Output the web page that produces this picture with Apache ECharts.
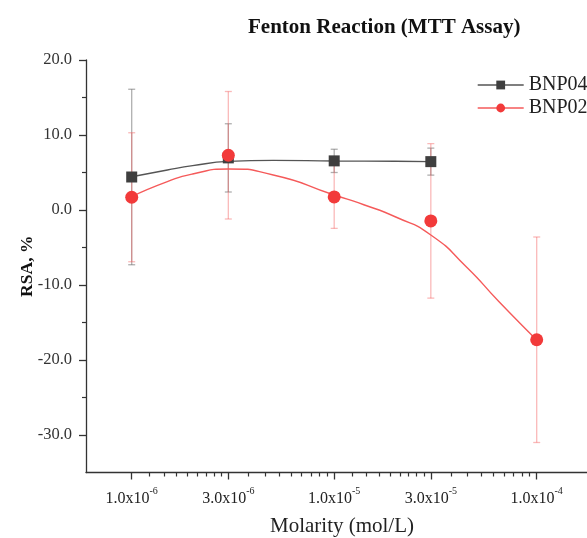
<!DOCTYPE html>
<html>
<head>
<meta charset="utf-8">
<script src="https://cdn.jsdelivr.net/npm/echarts@6/dist/echarts.min.js"></script>
<style>html,body{margin:0;padding:0;background:#fff;}#c{width:587px;height:538px;}</style>
</head>
<body>
<div id="c"></div>
<script>
// ---- data ----
const molarity = [1e-6, 3e-6, 1e-5, 3e-5, 1e-4];
const bnp04Mean = [4.4, 6.95, 6.55, 6.45];
const bnp04Err = [11.7, 4.55, 1.55, 1.8];
const bnp02Mean = [1.7, 7.3, 1.75, -1.45, -17.3];
const bnp02Err = [8.6, 8.5, 4.2, 10.3, 13.7];
// fitted curves
const bnp04FitMolarity = [1e-6, 1.5e-6, 2e-6, 3e-6, 5e-6, 1e-5, 2e-5, 3e-5];
const bnp04Fit = [4.44, 5.33, 5.91, 6.49, 6.62, 6.53, 6.5, 6.45];
const bnp02FitMolarity = [1e-6, 1.5e-6, 2e-6, 3e-6, 5e-6, 1e-5, 1.4e-5, 2e-5, 3e-5, 4.5e-5, 6.5e-5, 1e-4];
const bnp02Fit = [1.78, 3.78, 4.8, 5.47, 4.67, 2.0, 0.7, -0.9, -3.33, -7.6, -12.2, -17.33];
// tick labels
const tickMolarity = [1e-6, 3e-6, 1e-5, 3e-5, 1e-4];
const tickMantissa = ['1.0', '3.0', '1.0', '3.0', '1.0'];
const tickExponent = ['-6', '-6', '-5', '-5', '-4'];
const yMajorTicks = [-30, -20, -10, 0, 10, 20];
const yMinorTicks = [-25, -15, -5, 5, 15];

const L = Math.log10;
const serif = '"Liberation Serif", "DejaVu Serif", serif';
const xMajor = tickMolarity.map(L);
const xMinor = [];
for (let i = 0; i < tickMolarity.length - 1; i++) {
  const a = tickMolarity[i], b = tickMolarity[i + 1];
  for (let k = 1; k < 9; k++) xMinor.push(L(a + (b - a) * k / 9));
}
const xMin = -6.2257, xMax = -3.6973;

function errData(means, errs) {
  return means.map((m, i) => [L(molarity[i]), m - errs[i], m + errs[i]]);
}
function errSeries(name, data, color) {
  return {
    type: 'custom', name: name + ' err', data: data, z: 2,
    encode: { x: 0, y: [1, 2] },
    renderItem: function (params, api) {
      const x = api.value(0), lo = api.value(1), hi = api.value(2);
      const p1 = api.coord([x, hi]), p2 = api.coord([x, lo]);
      const hw = 3.5;
      const st = { stroke: color, lineWidth: 1.3 };
      return { type: 'group', children: [
        { type: 'line', shape: { x1: p1[0], y1: p1[1], x2: p2[0], y2: p2[1] }, style: st },
        { type: 'line', shape: { x1: p1[0] - hw, y1: p1[1], x2: p1[0] + hw, y2: p1[1] }, style: st },
        { type: 'line', shape: { x1: p2[0] - hw, y1: p2[1], x2: p2[0] + hw, y2: p2[1] }, style: st }
      ]};
    },
    tooltip: { show: false }
  };
}

const chart = echarts.init(document.getElementById('c'), null, { renderer: 'canvas' });
chart.setOption({
  animation: false,
  backgroundColor: '#fff',
  title: {
    text: 'Fenton Reaction (MTT Assay)', left: 248, top: 17, padding: 0,
    textStyle: { fontFamily: serif, fontSize: 21, fontWeight: 'bold', color: '#111' }
  },
  legend: {
    orient: 'vertical', left: 477, top: 75, padding: 0, itemWidth: 46, itemHeight: 11, itemGap: 3,
    textStyle: { fontFamily: serif, fontSize: 20, color: '#222' },
    data: [
      { name: 'BNP04', lineStyle: { color: '#555', width: 1.4, opacity: 1 } },
      { name: 'BNP02', lineStyle: { color: '#f55a5a', width: 1.4, opacity: 1 } }
    ]
  },
  grid: { left: 86, top: 60, width: 512, height: 412.5, outerBoundsMode: 'none', containLabel: false },
  xAxis: [{
    type: 'value', min: xMin, max: xMax, position: 'bottom',
    name: 'Molarity (mol/L)', nameLocation: 'middle', nameGap: 43,
    nameTextStyle: { fontFamily: serif, fontSize: 21, color: '#222' },
    axisLine: { show: true, onZero: false, lineStyle: { color: '#333', width: 1.3 } },
    axisTick: { show: true, customValues: xMajor, length: 7, inside: false, lineStyle: { color: '#333', width: 1.3 } },
    axisLabel: {
      customValues: xMajor, margin: 14, color: '#222',
      formatter: function (v) {
        let idx = 0, best = 1e9;
        xMajor.forEach((t, i) => { if (Math.abs(t - v) < best) { best = Math.abs(t - v); idx = i; } });
        return '{m|' + tickMantissa[idx] + 'x10}{e|' + tickExponent[idx] + '}';
      },
      rich: {
        m: { fontFamily: serif, fontSize: 16, color: '#222', verticalAlign: 'bottom', lineHeight: 20 },
        e: { fontFamily: serif, fontSize: 10, color: '#222', verticalAlign: 'top', lineHeight: 20 }
      }
    },
    splitLine: { show: false }
  }, {
    type: 'value', min: xMin, max: xMax, position: 'bottom', gridIndex: 0,
    axisLine: { show: false, onZero: false },
    axisTick: { show: true, customValues: xMinor, length: 4, lineStyle: { color: '#333', width: 1.2 } },
    axisLabel: { show: false },
    splitLine: { show: false }
  }],
  yAxis: [{
    type: 'value', min: -35, max: 20,
    name: 'RSA, %', nameLocation: 'middle', nameGap: 50, nameRotate: 90, nameMoveOverlap: false,
    nameTextStyle: { fontFamily: serif, fontSize: 17.5, fontWeight: 'bold', color: '#111' },
    axisLine: { show: true, onZero: false, lineStyle: { color: '#333', width: 1.3 } },
    axisTick: { show: true, customValues: yMajorTicks, length: 7, lineStyle: { color: '#333', width: 1.3 } },
    axisLabel: { customValues: yMajorTicks, margin: 14, fontFamily: serif, fontSize: 16.5, color: '#333',
      formatter: v => v.toFixed(1) },
    splitLine: { show: false }
  }, {
    type: 'value', min: -35, max: 20, position: 'left', gridIndex: 0,
    axisLine: { show: false, onZero: false },
    axisTick: { show: true, customValues: yMinorTicks, length: 4, lineStyle: { color: '#333', width: 1.2 } },
    axisLabel: { show: false },
    splitLine: { show: false }
  }],
  series: [
    errSeries('BNP04', errData(bnp04Mean, bnp04Err), 'rgba(110,110,110,0.55)'),
    errSeries('BNP02', errData(bnp02Mean, bnp02Err), 'rgba(245,100,100,0.45)'),
    {
      type: 'line', name: 'BNP04 fit', z: 3, smooth: 0.5, symbol: 'none',
      data: bnp04Fit.map((v, i) => [L(bnp04FitMolarity[i]), v]),
      lineStyle: { color: '#555', width: 1.4 }
    },
    {
      type: 'line', name: 'BNP02 fit', z: 3, smooth: 0.6, symbol: 'none',
      data: bnp02Fit.map((v, i) => [L(bnp02FitMolarity[i]), v]),
      lineStyle: { color: '#f55a5a', width: 1.4 }
    },
    {
      type: 'line', name: 'BNP04', z: 4, symbol: 'rect', symbolSize: 11,
      data: bnp04Mean.map((v, i) => [L(molarity[i]), v]),
      itemStyle: { color: '#3f3f3f' },
      lineStyle: { width: 0, opacity: 0 }
    },
    {
      type: 'line', name: 'BNP02', z: 5, symbol: 'circle', symbolSize: 13,
      data: bnp02Mean.map((v, i) => [L(molarity[i]), v]),
      itemStyle: { color: '#f23a3a' },
      lineStyle: { width: 0, opacity: 0 }
    }
  ]
});
</script>
</body>
</html>
